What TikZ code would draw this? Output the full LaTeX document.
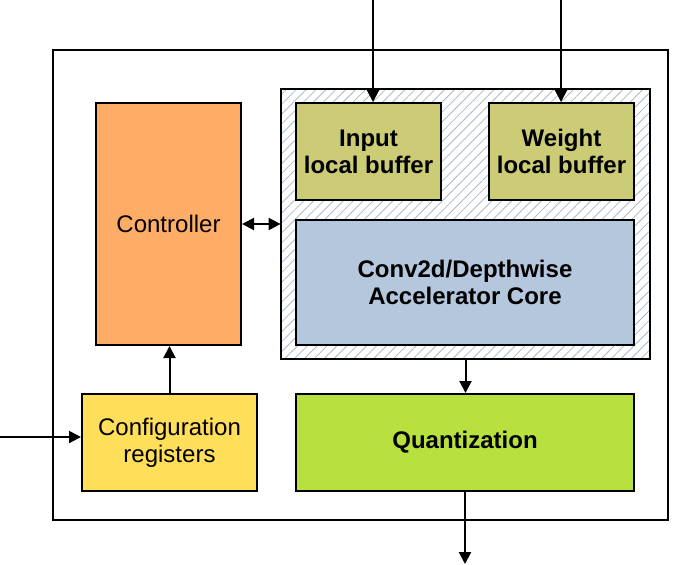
\documentclass[tikz,border=0pt]{standalone}
\usepackage{fontspec}
\setmainfont{Liberation Sans}
\usetikzlibrary{arrows.meta,patterns.meta}

\definecolor{ctrlorange}{HTML}{FFAD66}
\definecolor{cfgyellow}{HTML}{FFDE59}
\definecolor{bufolive}{HTML}{CCCC77}
\definecolor{coreblue}{HTML}{B4C7DC}
\definecolor{quantgreen}{HTML}{B8E03F}
\definecolor{hatchgray}{HTML}{A9B9CC}

\tikzset{
  blk/.style={draw, line width=1pt, inner sep=0pt, align=center,
    font=\fontsize{12}{13.5}\selectfont},
  arr/.style={line width=1pt, -{Triangle[length=6pt,width=6pt]}},
  darr/.style={line width=1pt, {Triangle[length=6pt,width=6pt]}-{Triangle[length=6pt,width=6pt]}}
}

\begin{document}
\begin{tikzpicture}[x=0.5pt,y=-0.5pt]
\useasboundingbox (0,0) rectangle (685,564);

% outer frame
\node[draw, line width=1pt, minimum width=307.5pt, minimum height=235pt] (top) at (360.5,285) {};

% hatched region
\node[draw, line width=1pt, minimum width=184.5pt, minimum height=135pt,
  pattern={Lines[angle=45,distance=3.5pt,line width=0.4pt]}, pattern color=hatchgray] (hatch) at (465.5,224) {};

\node[blk, fill=ctrlorange, minimum width=72.5pt, minimum height=121pt] (ctrl) at (168.5,224) {Controller};
\node[blk, fill=cfgyellow, minimum width=87.5pt, minimum height=48.5pt] (cfg) at (169.5,442.5) {Configuration\\registers};

\node[blk, fill=bufolive, minimum width=72.5pt, minimum height=48.5pt, font=\fontsize{12}{13.5}\selectfont\bfseries] (inbuf) at (368.5,151.5) {Input\\local buffer};
\node[blk, fill=bufolive, minimum width=72.5pt, minimum height=48.5pt, font=\fontsize{12}{13.5}\selectfont\bfseries] (wbuf) at (561.5,151.5) {Weight\\local buffer};
\node[blk, fill=coreblue, minimum width=169pt, minimum height=62.5pt, font=\fontsize{12}{13.5}\selectfont\bfseries] (core) at (465,282.5) {Conv2d/Depthwise\\Accelerator Core};
\node[blk, fill=quantgreen, minimum width=169pt, minimum height=48.5pt, font=\fontsize{12}{13.5}\selectfont\bfseries] (quant) at (465,442.5) {Quantization};

% free ends
\coordinate (inSrc) at (373,0);
\coordinate (wSrc) at (561,0);
\coordinate (cfgSrc) at (0,437);
\coordinate (outDst) at (465,564);

\draw[arr] (inSrc) -- (inSrc |- inbuf.north);
\draw[arr] (wSrc) -- (wSrc |- wbuf.north);
\draw[darr] (ctrl.east) -- (ctrl.east -| hatch.west);
\draw[arr] (cfg.north) -- (cfg.north |- ctrl.south);
\draw[arr] (cfgSrc) -- (cfgSrc -| cfg.west);
\draw[arr] (hatch.south) -- (hatch.south |- quant.north);
\draw[arr] (quant.south) -- (outDst);

\end{tikzpicture}
\end{document}
